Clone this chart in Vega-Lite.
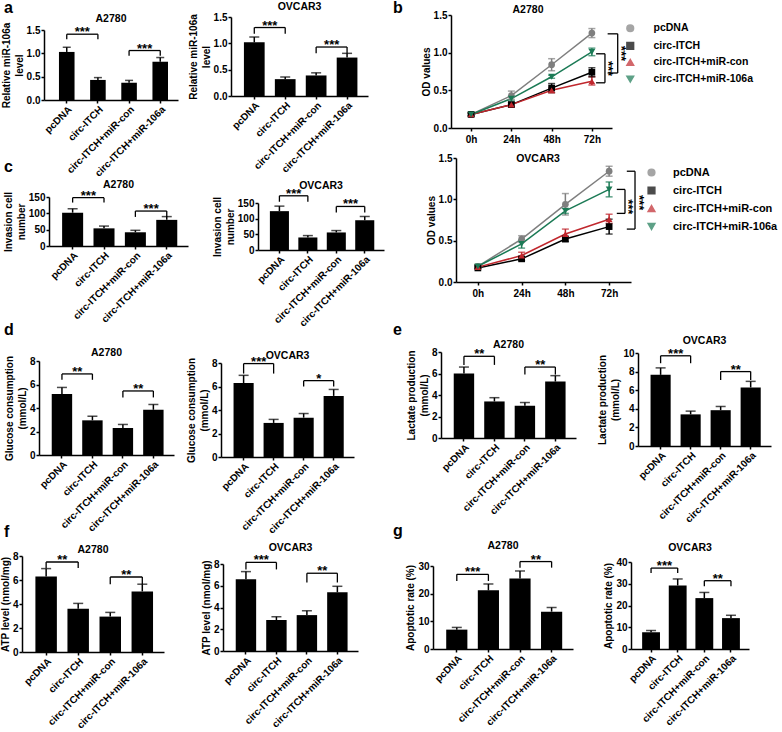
{
"$schema":"https://vega.github.io/schema/vega-lite/v6.json",
"padding":0,
"background":"white",
"config":{
 "font":"Liberation Sans",
 "view":{"stroke":null},
 "axis":{"labelFont":"Liberation Sans","labelFontWeight":"bold","labelFontSize":10,"labelColor":"#000","titleFont":"Liberation Sans","titleFontWeight":"bold","titleFontSize":10,"titleColor":"#000","titleLineHeight":13,"domainColor":"#000","domainWidth":1.5,"tickColor":"#000","tickWidth":1.5,"tickSize":3,"grid":false,"labelPadding":1,"titlePadding":2,"tickCount":12,"minExtent":0},
 "axisY":{"labelOverlap":false,"tickCount":12,"minExtent":0},
 "title":{"font":"Liberation Sans","fontSize":10.5,"fontWeight":"bold","color":"#000","baseline":"alphabetic"},
 "legend":{"labelFont":"Liberation Sans","labelFontWeight":"bold","labelColor":"#000"}
},
"resolve":{"scale":{"color":"independent","shape":"independent"},"legend":{"color":"independent","shape":"independent"}},
"datasets":{
"bars":[
{"panel":"aA","group":"pcDNA","value":1.03,"hi":1.13},{"panel":"aA","group":"circ-ITCH","value":0.43,"hi":0.48},{"panel":"aA","group":"circ-ITCH+miR-con","value":0.37,"hi":0.42},{"panel":"aA","group":"circ-ITCH+miR-106a","value":0.82,"hi":0.91},
{"panel":"aO","group":"pcDNA","value":1.02,"hi":1.12},{"panel":"aO","group":"circ-ITCH","value":0.32,"hi":0.36},{"panel":"aO","group":"circ-ITCH+miR-con","value":0.39,"hi":0.44},{"panel":"aO","group":"circ-ITCH+miR-106a","value":0.73,"hi":0.81},
{"panel":"cA","group":"pcDNA","value":102,"hi":114},{"panel":"cA","group":"circ-ITCH","value":54,"hi":61},{"panel":"cA","group":"circ-ITCH+miR-con","value":42,"hi":48},{"panel":"cA","group":"circ-ITCH+miR-106a","value":80,"hi":90},
{"panel":"cO","group":"pcDNA","value":124,"hi":140},{"panel":"cO","group":"circ-ITCH","value":40,"hi":46},{"panel":"cO","group":"circ-ITCH+miR-con","value":56,"hi":62},{"panel":"cO","group":"circ-ITCH+miR-106a","value":95,"hi":107},
{"panel":"dA","group":"pcDNA","value":5.2,"hi":5.75},{"panel":"dA","group":"circ-ITCH","value":2.95,"hi":3.3},{"panel":"dA","group":"circ-ITCH+miR-con","value":2.3,"hi":2.6},{"panel":"dA","group":"circ-ITCH+miR-106a","value":3.85,"hi":4.3},
{"panel":"dO","group":"pcDNA","value":6.3,"hi":6.95},{"panel":"dO","group":"circ-ITCH","value":2.9,"hi":3.2},{"panel":"dO","group":"circ-ITCH+miR-con","value":3.35,"hi":3.7},{"panel":"dO","group":"circ-ITCH+miR-106a","value":5.2,"hi":5.75},
{"panel":"eA","group":"pcDNA","value":6.0,"hi":6.6},{"panel":"eA","group":"circ-ITCH","value":3.4,"hi":3.75},{"panel":"eA","group":"circ-ITCH+miR-con","value":3.0,"hi":3.3},{"panel":"eA","group":"circ-ITCH+miR-106a","value":5.25,"hi":5.8},
{"panel":"eO","group":"pcDNA","value":7.65,"hi":8.4},{"panel":"eO","group":"circ-ITCH","value":3.4,"hi":3.75},{"panel":"eO","group":"circ-ITCH+miR-con","value":3.85,"hi":4.25},{"panel":"eO","group":"circ-ITCH+miR-106a","value":6.3,"hi":6.95},
{"panel":"fA","group":"pcDNA","value":6.3,"hi":6.95},{"panel":"fA","group":"circ-ITCH","value":3.6,"hi":4.05},{"panel":"fA","group":"circ-ITCH+miR-con","value":2.95,"hi":3.3},{"panel":"fA","group":"circ-ITCH+miR-106a","value":5.05,"hi":5.65},
{"panel":"fO","group":"pcDNA","value":6.6,"hi":7.3},{"panel":"fO","group":"circ-ITCH","value":2.85,"hi":3.15},{"panel":"fO","group":"circ-ITCH+miR-con","value":3.3,"hi":3.7},{"panel":"fO","group":"circ-ITCH+miR-106a","value":5.4,"hi":5.95},
{"panel":"gA","group":"pcDNA","value":7.0,"hi":7.8},{"panel":"gA","group":"circ-ITCH","value":21.2,"hi":23.5},{"panel":"gA","group":"circ-ITCH+miR-con","value":25.5,"hi":28.2},{"panel":"gA","group":"circ-ITCH+miR-106a","value":13.5,"hi":15.0},
{"panel":"gO","group":"pcDNA","value":7.7,"hi":8.5},{"panel":"gO","group":"circ-ITCH","value":29.2,"hi":32.2},{"panel":"gO","group":"circ-ITCH+miR-con","value":23.4,"hi":26.0},{"panel":"gO","group":"circ-ITCH+miR-106a","value":14.2,"hi":15.5}
],
"sig":[
{"panel":"aA","group":"pcDNA","to":"circ-ITCH","y":1.41,"y2":1.30,"label":"***"},{"panel":"aA","group":"circ-ITCH+miR-con","to":"circ-ITCH+miR-106a","y":1.06,"y2":0.95,"label":"***"},
{"panel":"aO","group":"pcDNA","to":"circ-ITCH","y":1.30,"y2":1.18,"label":"***"},{"panel":"aO","group":"circ-ITCH+miR-con","to":"circ-ITCH+miR-106a","y":0.93,"y2":0.81,"label":"***"},
{"panel":"cA","group":"pcDNA","to":"circ-ITCH","y":148,"y2":133,"label":"***"},{"panel":"cA","group":"circ-ITCH+miR-con","to":"circ-ITCH+miR-106a","y":107,"y2":89,"label":"***"},
{"panel":"cO","group":"pcDNA","to":"circ-ITCH","y":173,"y2":154,"label":"***"},{"panel":"cO","group":"circ-ITCH+miR-con","to":"circ-ITCH+miR-106a","y":139,"y2":120,"label":"***"},
{"panel":"dA","group":"pcDNA","to":"circ-ITCH","y":6.9,"y2":6.4,"label":"**"},{"panel":"dA","group":"circ-ITCH+miR-con","to":"circ-ITCH+miR-106a","y":5.45,"y2":4.9,"label":"**"},
{"panel":"dO","group":"pcDNA","to":"circ-ITCH","y":7.95,"y2":7.1,"label":"***"},{"panel":"dO","group":"circ-ITCH+miR-con","to":"circ-ITCH+miR-106a","y":6.5,"y2":6.0,"label":"*"},
{"panel":"eA","group":"pcDNA","to":"circ-ITCH","y":7.6,"y2":6.8,"label":"**"},{"panel":"eA","group":"circ-ITCH+miR-con","to":"circ-ITCH+miR-106a","y":6.6,"y2":5.9,"label":"**"},
{"panel":"eO","group":"pcDNA","to":"circ-ITCH","y":9.7,"y2":8.9,"label":"***"},{"panel":"eO","group":"circ-ITCH+miR-con","to":"circ-ITCH+miR-106a","y":8.0,"y2":7.1,"label":"**"},
{"panel":"fA","group":"pcDNA","to":"circ-ITCH","y":7.5,"y2":7.0,"label":"**"},{"panel":"fA","group":"circ-ITCH+miR-con","to":"circ-ITCH+miR-106a","y":6.25,"y2":5.65,"label":"**"},
{"panel":"fO","group":"pcDNA","to":"circ-ITCH","y":8.15,"y2":7.5,"label":"***"},{"panel":"fO","group":"circ-ITCH+miR-con","to":"circ-ITCH+miR-106a","y":7.15,"y2":6.3,"label":"**"},
{"panel":"gA","group":"pcDNA","to":"circ-ITCH","y":27,"y2":24.6,"label":"***"},{"panel":"gA","group":"circ-ITCH+miR-con","to":"circ-ITCH+miR-106a","y":31.6,"y2":29.4,"label":"**"},
{"panel":"gO","group":"pcDNA","to":"circ-ITCH","y":37.2,"y2":35,"label":"***"},{"panel":"gO","group":"circ-ITCH+miR-con","to":"circ-ITCH+miR-106a","y":31.4,"y2":28.8,"label":"**"}
],
"od":[
{"panel":"bA","group":"pcDNA","time":0,"value":0.18,"lo":0.16,"hi":0.2},{"panel":"bA","group":"pcDNA","time":24,"value":0.43,"lo":0.38,"hi":0.49},{"panel":"bA","group":"pcDNA","time":48,"value":0.84,"lo":0.76,"hi":0.92},{"panel":"bA","group":"pcDNA","time":72,"value":1.26,"lo":1.2,"hi":1.32},
{"panel":"bA","group":"circ-ITCH","time":0,"value":0.18,"lo":0.16,"hi":0.2},{"panel":"bA","group":"circ-ITCH","time":24,"value":0.31,"lo":0.28,"hi":0.34},{"panel":"bA","group":"circ-ITCH","time":48,"value":0.53,"lo":0.47,"hi":0.59},{"panel":"bA","group":"circ-ITCH","time":72,"value":0.74,"lo":0.68,"hi":0.8},
{"panel":"bA","group":"circ-ITCH+miR-con","time":0,"value":0.18,"lo":0.16,"hi":0.2},{"panel":"bA","group":"circ-ITCH+miR-con","time":24,"value":0.31,"lo":0.29,"hi":0.33},{"panel":"bA","group":"circ-ITCH+miR-con","time":48,"value":0.5,"lo":0.47,"hi":0.53},{"panel":"bA","group":"circ-ITCH+miR-con","time":72,"value":0.62,"lo":0.57,"hi":0.68},
{"panel":"bA","group":"circ-ITCH+miR-106a","time":0,"value":0.18,"lo":0.16,"hi":0.2},{"panel":"bA","group":"circ-ITCH+miR-106a","time":24,"value":0.39,"lo":0.36,"hi":0.42},{"panel":"bA","group":"circ-ITCH+miR-106a","time":48,"value":0.68,"lo":0.66,"hi":0.7},{"panel":"bA","group":"circ-ITCH+miR-106a","time":72,"value":1.01,"lo":0.96,"hi":1.06},
{"panel":"bO","group":"pcDNA","time":0,"value":0.19,"lo":0.17,"hi":0.21},{"panel":"bO","group":"pcDNA","time":24,"value":0.52,"lo":0.48,"hi":0.56},{"panel":"bO","group":"pcDNA","time":48,"value":0.94,"lo":0.81,"hi":1.07},{"panel":"bO","group":"pcDNA","time":72,"value":1.34,"lo":1.28,"hi":1.4},
{"panel":"bO","group":"circ-ITCH","time":0,"value":0.17,"lo":0.16,"hi":0.19},{"panel":"bO","group":"circ-ITCH","time":24,"value":0.28,"lo":0.26,"hi":0.3},{"panel":"bO","group":"circ-ITCH","time":48,"value":0.52,"lo":0.49,"hi":0.55},{"panel":"bO","group":"circ-ITCH","time":72,"value":0.67,"lo":0.58,"hi":0.76},
{"panel":"bO","group":"circ-ITCH+miR-con","time":0,"value":0.18,"lo":0.17,"hi":0.2},{"panel":"bO","group":"circ-ITCH+miR-con","time":24,"value":0.32,"lo":0.29,"hi":0.36},{"panel":"bO","group":"circ-ITCH+miR-con","time":48,"value":0.58,"lo":0.53,"hi":0.64},{"panel":"bO","group":"circ-ITCH+miR-con","time":72,"value":0.76,"lo":0.71,"hi":0.82},
{"panel":"bO","group":"circ-ITCH+miR-106a","time":0,"value":0.19,"lo":0.17,"hi":0.21},{"panel":"bO","group":"circ-ITCH+miR-106a","time":24,"value":0.46,"lo":0.41,"hi":0.51},{"panel":"bO","group":"circ-ITCH+miR-106a","time":48,"value":0.86,"lo":0.83,"hi":0.89},{"panel":"bO","group":"circ-ITCH+miR-106a","time":72,"value":1.12,"lo":1.03,"hi":1.21}
],
"bsig":[
{"panel":"bA","bx":87.4,"bxl":81.4,"top":1.25,"bottom":0.73,"sx":89.6,"sy":0.99,"label":"***"},
{"panel":"bA","bx":79.8,"bxl":74.5,"top":0.985,"bottom":0.6,"sx":81.8,"sy":0.79,"label":"***"},
{"panel":"bO","bx":86.2,"bxl":81.7,"top":1.34,"bottom":0.64,"sx":88.2,"sy":0.96,"label":"***"},
{"panel":"bO","bx":80.7,"bxl":76.2,"top":1.12,"bottom":0.83,"sx":82.6,"sy":0.91,"label":"***"}
]
},
"columns":7,
"align":"each",
"bounds":"flush",
"spacing":0,
"concat":[
 {"width":1,"height":1,"data":{"values":[]},"mark":"point","title":{"text":"a","anchor":"start","dx":-17,"offset":-1,"fontSize":16}},
 {"width":166,"height":85,"title":{"text":"A2780","offset":-9.5,"dx":6},
  "encoding":{"x":{"field":"group","type":"nominal","scale":{"domain":["pcDNA","circ-ITCH","circ-ITCH+miR-con","circ-ITCH+miR-106a"],"paddingInner":0.5,"paddingOuter":0.4,"align":0.6,"range":[22,156]},"axis":{"title":null,"labelAngle":-45}}},
  "layer":[
   {"data":{"name":"bars"},"transform":[{"filter":"datum.panel=='aA'"}],"mark":{"type":"bar","color":"#000"},"encoding":{"y":{"field":"value","type":"quantitative","scale":{"domain":[0,1.5],"nice":false,"range":[85,15]},"axis":{"values":[0,0.5,1,1.5],"tickCount":12,"format":".1f","offset":-22,"title":["Relative miR-106a","level"]}}}},
   {"data":{"name":"bars"},"transform":[{"filter":"datum.panel=='aA'"}],"mark":{"type":"rule","color":"#000","strokeWidth":1.5},"encoding":{"y":{"field":"value","type":"quantitative"},"y2":{"field":"hi"}}},
   {"data":{"name":"bars"},"transform":[{"filter":"datum.panel=='aA'"}],"mark":{"type":"tick","orient":"horizontal","color":"#000","size":8,"thickness":1.5},"encoding":{"y":{"field":"hi","type":"quantitative"}}},
   {"data":{"name":"sig"},"transform":[{"filter":"datum.panel=='aA'"}],"mark":{"type":"rule","color":"#000","strokeWidth":1.3},"encoding":{"x2":{"field":"to"},"y":{"field":"y","type":"quantitative"}}},
   {"data":{"name":"sig"},"transform":[{"filter":"datum.panel=='aA'"}],"mark":{"type":"rule","color":"#000","strokeWidth":1.3},"encoding":{"y":{"field":"y","type":"quantitative"},"y2":{"field":"y2"}}},
   {"data":{"name":"sig"},"transform":[{"filter":"datum.panel=='aA'"}],"mark":{"type":"rule","color":"#000","strokeWidth":1.3},"encoding":{"x":{"field":"to","type":"nominal"},"y":{"field":"y","type":"quantitative"},"y2":{"field":"y2"}}},
   {"data":{"name":"sig"},"transform":[{"filter":"datum.panel=='aA'"}],"mark":{"type":"text","fontSize":13,"fontWeight":"bold","baseline":"middle","dy":-2},"encoding":{"x":{"field":"group","type":"nominal","bandPosition":1.5},"y":{"field":"y","type":"quantitative"},"text":{"field":"label"}}}
  ]},
 {"width":33,"height":1,"data":{"values":[]},"mark":"point"},
 {"width":163,"height":81,"title":{"text":"OVCAR3","offset":-0.5,"dx":-3},
  "encoding":{"x":{"field":"group","type":"nominal","scale":{"domain":["pcDNA","circ-ITCH","circ-ITCH+miR-con","circ-ITCH+miR-106a"],"paddingInner":0.33,"paddingOuter":0.38,"align":0.55,"range":[10,147]},"axis":{"title":null,"labelAngle":-45}}},
  "layer":[
   {"data":{"name":"bars"},"transform":[{"filter":"datum.panel=='aO'"}],"mark":{"type":"bar","color":"#000"},"encoding":{"y":{"field":"value","type":"quantitative","scale":{"domain":[0,1.5],"nice":false,"range":[81,2]},"axis":{"values":[0,0.5,1,1.5],"tickCount":12,"format":".1f","offset":-10,"title":["Relative miR-106a","level"]}}}},
   {"data":{"name":"bars"},"transform":[{"filter":"datum.panel=='aO'"}],"mark":{"type":"rule","color":"#000","strokeWidth":1.5},"encoding":{"y":{"field":"value","type":"quantitative"},"y2":{"field":"hi"}}},
   {"data":{"name":"bars"},"transform":[{"filter":"datum.panel=='aO'"}],"mark":{"type":"tick","orient":"horizontal","color":"#000","size":10,"thickness":1.5},"encoding":{"y":{"field":"hi","type":"quantitative"}}},
   {"data":{"name":"sig"},"transform":[{"filter":"datum.panel=='aO'"}],"mark":{"type":"rule","color":"#000","strokeWidth":1.3},"encoding":{"x2":{"field":"to"},"y":{"field":"y","type":"quantitative"}}},
   {"data":{"name":"sig"},"transform":[{"filter":"datum.panel=='aO'"}],"mark":{"type":"rule","color":"#000","strokeWidth":1.3},"encoding":{"y":{"field":"y","type":"quantitative"},"y2":{"field":"y2"}}},
   {"data":{"name":"sig"},"transform":[{"filter":"datum.panel=='aO'"}],"mark":{"type":"rule","color":"#000","strokeWidth":1.3},"encoding":{"x":{"field":"to","type":"nominal"},"y":{"field":"y","type":"quantitative"},"y2":{"field":"y2"}}},
   {"data":{"name":"sig"},"transform":[{"filter":"datum.panel=='aO'"}],"mark":{"type":"text","fontSize":13,"fontWeight":"bold","baseline":"middle","dy":-2},"encoding":{"x":{"field":"group","type":"nominal","bandPosition":1.25},"y":{"field":"y","type":"quantitative"},"text":{"field":"label"}}}
  ]},
 {"width":49,"height":1,"data":{"values":[]},"mark":"point","title":{"text":"b","anchor":"start","dx":9,"offset":-1,"fontSize":16}},
 {"width":198,"height":113,"title":{"text":"A2780","offset":-5.5,"dx":-4},
  "encoding":{"x":{"field":"time","type":"quantitative","scale":{"domain":[-12,84],"nice":false,"range":[18,179]},"axis":{"values":[0,24,48,72],"tickCount":12,"labelExpr":"datum.value + 'h'","title":null,"labelPadding":3}}},
  "layer":[
   {"data":{"name":"od"},"transform":[{"filter":"datum.panel=='bA'"}],"mark":{"type":"line","strokeWidth":1.5},"encoding":{"y":{"field":"value","type":"quantitative","scale":{"domain":[0,1.5],"nice":false},"axis":{"values":[0,0.5,1,1.5],"tickCount":12,"format":".1f","offset":-18,"title":"OD  values"}},"color":{"field":"group","type":"nominal","scale":{"domain":["pcDNA","circ-ITCH","circ-ITCH+miR-con","circ-ITCH+miR-106a"],"range":["#7f7f7f","#000000","#c0272d","#1b7a55"]},"legend":{"title":null,"offset":-14,"padding":8,"labelFontSize":10.5,"symbolSize":45,"rowPadding":3.6,"labelOffset":18,"symbolStrokeWidth":1.5}}}},
   {"data":{"name":"od"},"transform":[{"filter":"datum.panel=='bA'"}],"mark":{"type":"rule","strokeWidth":1.5},"encoding":{"y":{"field":"lo","type":"quantitative"},"y2":{"field":"hi"},"color":{"field":"group","type":"nominal"}}},
   {"data":{"name":"od"},"transform":[{"filter":"datum.panel=='bA'"}],"mark":{"type":"tick","orient":"horizontal","size":7,"thickness":1.5},"encoding":{"y":{"field":"hi","type":"quantitative"},"color":{"field":"group","type":"nominal"}}},
   {"data":{"name":"od"},"transform":[{"filter":"datum.panel=='bA'"}],"mark":{"type":"tick","orient":"horizontal","size":7,"thickness":1.5},"encoding":{"y":{"field":"lo","type":"quantitative"},"color":{"field":"group","type":"nominal"}}},
   {"data":{"name":"od"},"transform":[{"filter":"datum.panel=='bA'"}],"mark":{"type":"point","filled":true,"size":45,"opacity":1},"encoding":{"y":{"field":"value","type":"quantitative"},"color":{"field":"group","type":"nominal"},"shape":{"field":"group","type":"nominal","scale":{"domain":["pcDNA","circ-ITCH","circ-ITCH+miR-con","circ-ITCH+miR-106a"],"range":["circle","square","triangle-up","triangle-down"]},"legend":{"title":null,"offset":-14,"padding":8,"labelFontSize":10.5,"symbolSize":45,"rowPadding":3.6,"labelOffset":18}}}},
   {"data":{"name":"bsig"},"transform":[{"filter":"datum.panel=='bA'"}],"mark":{"type":"rule","color":"#000","strokeWidth":1.3},"encoding":{"x":{"field":"bx","type":"quantitative"},"y":{"field":"top","type":"quantitative"},"y2":{"field":"bottom"}}},
   {"data":{"name":"bsig"},"transform":[{"filter":"datum.panel=='bA'"}],"mark":{"type":"rule","color":"#000","strokeWidth":1.3},"encoding":{"x":{"field":"bxl","type":"quantitative"},"x2":{"field":"bx"},"y":{"field":"top","type":"quantitative"}}},
   {"data":{"name":"bsig"},"transform":[{"filter":"datum.panel=='bA'"}],"mark":{"type":"rule","color":"#000","strokeWidth":1.3},"encoding":{"x":{"field":"bxl","type":"quantitative"},"x2":{"field":"bx"},"y":{"field":"bottom","type":"quantitative"}}},
   {"data":{"name":"bsig"},"transform":[{"filter":"datum.panel=='bA'"}],"mark":{"type":"text","angle":90,"fontSize":13,"fontWeight":"bold","baseline":"middle"},"encoding":{"x":{"field":"sx","type":"quantitative"},"y":{"field":"sy","type":"quantitative"},"text":{"field":"label"}}}
  ]},
 {"width":1,"height":1,"data":{"values":[]},"mark":"point"},

 {"width":1,"height":30,"data":{"values":[]},"mark":"point"},
 {"width":1,"height":1,"data":{"values":[]},"mark":"point"},
 {"width":1,"height":1,"data":{"values":[]},"mark":"point"},
 {"width":1,"height":1,"data":{"values":[]},"mark":"point"},
 {"width":1,"height":1,"data":{"values":[]},"mark":"point"},
 {"width":1,"height":1,"data":{"values":[]},"mark":"point"},
 {"width":1,"height":1,"data":{"values":[]},"mark":"point"},

 {"width":1,"height":1,"data":{"values":[]},"mark":"point","title":{"text":"c","anchor":"start","dx":-17,"offset":-17,"fontSize":16}},
 {"width":166,"height":88,"title":{"text":"A2780","offset":-32.5,"dx":13.5},
  "encoding":{"x":{"field":"group","type":"nominal","scale":{"domain":["pcDNA","circ-ITCH","circ-ITCH+miR-con","circ-ITCH+miR-106a"],"paddingInner":0.33,"paddingOuter":0.38,"align":0.55,"range":[27,166]},"axis":{"title":null,"labelAngle":-45}}},
  "layer":[
   {"data":{"name":"bars"},"transform":[{"filter":"datum.panel=='cA'"}],"mark":{"type":"bar","color":"#000"},"encoding":{"y":{"field":"value","type":"quantitative","scale":{"domain":[0,150],"nice":false,"range":[88,39]},"axis":{"values":[0,50,100,150],"tickCount":12,"format":"d","offset":-27,"title":["Invasion cell","number"]}}}},
   {"data":{"name":"bars"},"transform":[{"filter":"datum.panel=='cA'"}],"mark":{"type":"rule","color":"#000","strokeWidth":1.5},"encoding":{"y":{"field":"value","type":"quantitative"},"y2":{"field":"hi"}}},
   {"data":{"name":"bars"},"transform":[{"filter":"datum.panel=='cA'"}],"mark":{"type":"tick","orient":"horizontal","color":"#000","size":10,"thickness":1.5},"encoding":{"y":{"field":"hi","type":"quantitative"}}},
   {"data":{"name":"sig"},"transform":[{"filter":"datum.panel=='cA'"}],"mark":{"type":"rule","color":"#000","strokeWidth":1.3},"encoding":{"x2":{"field":"to"},"y":{"field":"y","type":"quantitative"}}},
   {"data":{"name":"sig"},"transform":[{"filter":"datum.panel=='cA'"}],"mark":{"type":"rule","color":"#000","strokeWidth":1.3},"encoding":{"y":{"field":"y","type":"quantitative"},"y2":{"field":"y2"}}},
   {"data":{"name":"sig"},"transform":[{"filter":"datum.panel=='cA'"}],"mark":{"type":"rule","color":"#000","strokeWidth":1.3},"encoding":{"x":{"field":"to","type":"nominal"},"y":{"field":"y","type":"quantitative"},"y2":{"field":"y2"}}},
   {"data":{"name":"sig"},"transform":[{"filter":"datum.panel=='cA'"}],"mark":{"type":"text","fontSize":13,"fontWeight":"bold","baseline":"middle","dy":-2},"encoding":{"x":{"field":"group","type":"nominal","bandPosition":1.25},"y":{"field":"y","type":"quantitative"},"text":{"field":"label"}}}
  ]},
 {"width":33,"height":1,"data":{"values":[]},"mark":"point"},
 {"width":163,"height":92,"title":{"text":"OVCAR3","offset":-33.5,"dx":18.5},
  "encoding":{"x":{"field":"group","type":"nominal","scale":{"domain":["pcDNA","circ-ITCH","circ-ITCH+miR-con","circ-ITCH+miR-106a"],"paddingInner":0.33,"paddingOuter":0.38,"align":0.55,"range":[37,163]},"axis":{"title":null,"labelAngle":-45}}},
  "layer":[
   {"data":{"name":"bars"},"transform":[{"filter":"datum.panel=='cO'"}],"mark":{"type":"bar","color":"#000"},"encoding":{"y":{"field":"value","type":"quantitative","scale":{"domain":[0,150],"nice":false,"range":[92,45]},"axis":{"values":[0,50,100,150],"tickCount":12,"format":"d","offset":-37,"title":["Invasion cell","number"]}}}},
   {"data":{"name":"bars"},"transform":[{"filter":"datum.panel=='cO'"}],"mark":{"type":"rule","color":"#000","strokeWidth":1.5},"encoding":{"y":{"field":"value","type":"quantitative"},"y2":{"field":"hi"}}},
   {"data":{"name":"bars"},"transform":[{"filter":"datum.panel=='cO'"}],"mark":{"type":"tick","orient":"horizontal","color":"#000","size":10,"thickness":1.5},"encoding":{"y":{"field":"hi","type":"quantitative"}}},
   {"data":{"name":"sig"},"transform":[{"filter":"datum.panel=='cO'"}],"mark":{"type":"rule","color":"#000","strokeWidth":1.3},"encoding":{"x2":{"field":"to"},"y":{"field":"y","type":"quantitative"}}},
   {"data":{"name":"sig"},"transform":[{"filter":"datum.panel=='cO'"}],"mark":{"type":"rule","color":"#000","strokeWidth":1.3},"encoding":{"y":{"field":"y","type":"quantitative"},"y2":{"field":"y2"}}},
   {"data":{"name":"sig"},"transform":[{"filter":"datum.panel=='cO'"}],"mark":{"type":"rule","color":"#000","strokeWidth":1.3},"encoding":{"x":{"field":"to","type":"nominal"},"y":{"field":"y","type":"quantitative"},"y2":{"field":"y2"}}},
   {"data":{"name":"sig"},"transform":[{"filter":"datum.panel=='cO'"}],"mark":{"type":"text","fontSize":13,"fontWeight":"bold","baseline":"middle","dy":-2},"encoding":{"x":{"field":"group","type":"nominal","bandPosition":1.25},"y":{"field":"y","type":"quantitative"},"text":{"field":"label"}}}
  ]},
 {"width":49,"height":1,"data":{"values":[]},"mark":"point"},
 {"width":198,"height":124,"title":{"text":"OVCAR3","offset":-11.5,"dx":6},
  "encoding":{"x":{"field":"time","type":"quantitative","scale":{"domain":[-12,84],"nice":false,"range":[23,198]},"axis":{"values":[0,24,48,72],"tickCount":12,"labelExpr":"datum.value + 'h'","title":null,"labelPadding":3}}},
  "layer":[
   {"data":{"name":"od"},"transform":[{"filter":"datum.panel=='bO'"}],"mark":{"type":"line","strokeWidth":1.5},"encoding":{"y":{"field":"value","type":"quantitative","scale":{"domain":[0,1.5],"nice":false},"axis":{"values":[0,0.5,1,1.5],"tickCount":12,"format":".1f","offset":-23,"title":"OD  values"}},"color":{"field":"group","type":"nominal","scale":{"domain":["pcDNA","circ-ITCH","circ-ITCH+miR-con","circ-ITCH+miR-106a"],"range":["#7f7f7f","#000000","#c0272d","#1b7a55"]},"legend":{"title":null,"offset":6,"padding":9,"labelFontSize":11,"symbolSize":45,"rowPadding":5,"labelOffset":16,"symbolStrokeWidth":1.5}}}},
   {"data":{"name":"od"},"transform":[{"filter":"datum.panel=='bO'"}],"mark":{"type":"rule","strokeWidth":1.5},"encoding":{"y":{"field":"lo","type":"quantitative"},"y2":{"field":"hi"},"color":{"field":"group","type":"nominal"}}},
   {"data":{"name":"od"},"transform":[{"filter":"datum.panel=='bO'"}],"mark":{"type":"tick","orient":"horizontal","size":7,"thickness":1.5},"encoding":{"y":{"field":"hi","type":"quantitative"},"color":{"field":"group","type":"nominal"}}},
   {"data":{"name":"od"},"transform":[{"filter":"datum.panel=='bO'"}],"mark":{"type":"tick","orient":"horizontal","size":7,"thickness":1.5},"encoding":{"y":{"field":"lo","type":"quantitative"},"color":{"field":"group","type":"nominal"}}},
   {"data":{"name":"od"},"transform":[{"filter":"datum.panel=='bO'"}],"mark":{"type":"point","filled":true,"size":45,"opacity":1},"encoding":{"y":{"field":"value","type":"quantitative"},"color":{"field":"group","type":"nominal"},"shape":{"field":"group","type":"nominal","scale":{"domain":["pcDNA","circ-ITCH","circ-ITCH+miR-con","circ-ITCH+miR-106a"],"range":["circle","square","triangle-up","triangle-down"]},"legend":{"title":null,"offset":6,"padding":9,"labelFontSize":11,"symbolSize":45,"rowPadding":5,"labelOffset":16}}}},
   {"data":{"name":"bsig"},"transform":[{"filter":"datum.panel=='bO'"}],"mark":{"type":"rule","color":"#000","strokeWidth":1.3},"encoding":{"x":{"field":"bx","type":"quantitative"},"y":{"field":"top","type":"quantitative"},"y2":{"field":"bottom"}}},
   {"data":{"name":"bsig"},"transform":[{"filter":"datum.panel=='bO'"}],"mark":{"type":"rule","color":"#000","strokeWidth":1.3},"encoding":{"x":{"field":"bxl","type":"quantitative"},"x2":{"field":"bx"},"y":{"field":"top","type":"quantitative"}}},
   {"data":{"name":"bsig"},"transform":[{"filter":"datum.panel=='bO'"}],"mark":{"type":"rule","color":"#000","strokeWidth":1.3},"encoding":{"x":{"field":"bxl","type":"quantitative"},"x2":{"field":"bx"},"y":{"field":"bottom","type":"quantitative"}}},
   {"data":{"name":"bsig"},"transform":[{"filter":"datum.panel=='bO'"}],"mark":{"type":"text","angle":90,"fontSize":13,"fontWeight":"bold","baseline":"middle"},"encoding":{"x":{"field":"sx","type":"quantitative"},"y":{"field":"sy","type":"quantitative"},"text":{"field":"label"}}}
  ]},
 {"width":1,"height":1,"data":{"values":[]},"mark":"point"},

 {"width":1,"height":70,"data":{"values":[]},"mark":"point"},
 {"width":1,"height":1,"data":{"values":[]},"mark":"point"},
 {"width":1,"height":1,"data":{"values":[]},"mark":"point"},
 {"width":1,"height":1,"data":{"values":[]},"mark":"point"},
 {"width":1,"height":1,"data":{"values":[]},"mark":"point"},
 {"width":1,"height":1,"data":{"values":[]},"mark":"point"},
 {"width":1,"height":1,"data":{"values":[]},"mark":"point"},

 {"width":1,"height":1,"data":{"values":[]},"mark":"point","title":{"text":"d","anchor":"start","dx":-17,"offset":14,"fontSize":16}},
 {"width":166,"height":103,"title":{"text":"A2780","offset":-6.5,"dx":1.5},
  "encoding":{"x":{"field":"group","type":"nominal","scale":{"domain":["pcDNA","circ-ITCH","circ-ITCH+miR-con","circ-ITCH+miR-106a"],"paddingInner":0.33,"paddingOuter":0.38,"align":0.55,"range":[17,152]},"axis":{"title":null,"labelAngle":-45}}},
  "layer":[
   {"data":{"name":"bars"},"transform":[{"filter":"datum.panel=='dA'"}],"mark":{"type":"bar","color":"#000"},"encoding":{"y":{"field":"value","type":"quantitative","scale":{"domain":[0,8],"nice":false,"range":[103,9]},"axis":{"values":[0,2,4,6,8],"tickCount":12,"format":"d","offset":-17,"title":["Glucose consumption","(mmol/L)"]}}}},
   {"data":{"name":"bars"},"transform":[{"filter":"datum.panel=='dA'"}],"mark":{"type":"rule","color":"#000","strokeWidth":1.5},"encoding":{"y":{"field":"value","type":"quantitative"},"y2":{"field":"hi"}}},
   {"data":{"name":"bars"},"transform":[{"filter":"datum.panel=='dA'"}],"mark":{"type":"tick","orient":"horizontal","color":"#000","size":10,"thickness":1.5},"encoding":{"y":{"field":"hi","type":"quantitative"}}},
   {"data":{"name":"sig"},"transform":[{"filter":"datum.panel=='dA'"}],"mark":{"type":"rule","color":"#000","strokeWidth":1.3},"encoding":{"x2":{"field":"to"},"y":{"field":"y","type":"quantitative"}}},
   {"data":{"name":"sig"},"transform":[{"filter":"datum.panel=='dA'"}],"mark":{"type":"rule","color":"#000","strokeWidth":1.3},"encoding":{"y":{"field":"y","type":"quantitative"},"y2":{"field":"y2"}}},
   {"data":{"name":"sig"},"transform":[{"filter":"datum.panel=='dA'"}],"mark":{"type":"rule","color":"#000","strokeWidth":1.3},"encoding":{"x":{"field":"to","type":"nominal"},"y":{"field":"y","type":"quantitative"},"y2":{"field":"y2"}}},
   {"data":{"name":"sig"},"transform":[{"filter":"datum.panel=='dA'"}],"mark":{"type":"text","fontSize":13,"fontWeight":"bold","baseline":"middle","dy":-2},"encoding":{"x":{"field":"group","type":"nominal","bandPosition":1.25},"y":{"field":"y","type":"quantitative"},"text":{"field":"label"}}}
  ]},
 {"width":33,"height":1,"data":{"values":[]},"mark":"point"},
 {"width":163,"height":105,"title":{"text":"OVCAR3","offset":-9.5,"dx":-15},
  "encoding":{"x":{"field":"group","type":"nominal","scale":{"domain":["pcDNA","circ-ITCH","circ-ITCH+miR-con","circ-ITCH+miR-106a"],"paddingInner":0.33,"paddingOuter":0.38,"align":0.55,"range":[0,133]},"axis":{"title":null,"labelAngle":-45}}},
  "layer":[
   {"data":{"name":"bars"},"transform":[{"filter":"datum.panel=='dO'"}],"mark":{"type":"bar","color":"#000"},"encoding":{"y":{"field":"value","type":"quantitative","scale":{"domain":[0,8],"nice":false,"range":[105,11]},"axis":{"values":[0,2,4,6,8],"tickCount":12,"format":"d","title":["Glucose consumption","(mmol/L)"]}}}},
   {"data":{"name":"bars"},"transform":[{"filter":"datum.panel=='dO'"}],"mark":{"type":"rule","color":"#000","strokeWidth":1.5},"encoding":{"y":{"field":"value","type":"quantitative"},"y2":{"field":"hi"}}},
   {"data":{"name":"bars"},"transform":[{"filter":"datum.panel=='dO'"}],"mark":{"type":"tick","orient":"horizontal","color":"#000","size":10,"thickness":1.5},"encoding":{"y":{"field":"hi","type":"quantitative"}}},
   {"data":{"name":"sig"},"transform":[{"filter":"datum.panel=='dO'"}],"mark":{"type":"rule","color":"#000","strokeWidth":1.3},"encoding":{"x2":{"field":"to"},"y":{"field":"y","type":"quantitative"}}},
   {"data":{"name":"sig"},"transform":[{"filter":"datum.panel=='dO'"}],"mark":{"type":"rule","color":"#000","strokeWidth":1.3},"encoding":{"y":{"field":"y","type":"quantitative"},"y2":{"field":"y2"}}},
   {"data":{"name":"sig"},"transform":[{"filter":"datum.panel=='dO'"}],"mark":{"type":"rule","color":"#000","strokeWidth":1.3},"encoding":{"x":{"field":"to","type":"nominal"},"y":{"field":"y","type":"quantitative"},"y2":{"field":"y2"}}},
   {"data":{"name":"sig"},"transform":[{"filter":"datum.panel=='dO'"}],"mark":{"type":"text","fontSize":13,"fontWeight":"bold","baseline":"middle","dy":-2},"encoding":{"x":{"field":"group","type":"nominal","bandPosition":1.25},"y":{"field":"y","type":"quantitative"},"text":{"field":"label"}}}
  ]},
 {"width":49,"height":1,"data":{"values":[]},"mark":"point","title":{"text":"e","anchor":"start","dx":9,"offset":14,"fontSize":16}},
 {"width":198,"height":86,"title":{"text":"A2780","offset":-3.5,"dx":-23.5},
  "encoding":{"x":{"field":"group","type":"nominal","scale":{"domain":["pcDNA","circ-ITCH","circ-ITCH+miR-con","circ-ITCH+miR-106a"],"paddingInner":0.33,"paddingOuter":0.38,"align":0.55,"range":[8,143]},"axis":{"title":null,"labelAngle":-45}}},
  "layer":[
   {"data":{"name":"bars"},"transform":[{"filter":"datum.panel=='eA'"}],"mark":{"type":"bar","color":"#000"},"encoding":{"y":{"field":"value","type":"quantitative","scale":{"domain":[0,8],"nice":false},"axis":{"values":[0,2,4,6,8],"tickCount":12,"format":"d","offset":-8,"title":["Lactate production","(mmol/L)"]}}}},
   {"data":{"name":"bars"},"transform":[{"filter":"datum.panel=='eA'"}],"mark":{"type":"rule","color":"#000","strokeWidth":1.5},"encoding":{"y":{"field":"value","type":"quantitative"},"y2":{"field":"hi"}}},
   {"data":{"name":"bars"},"transform":[{"filter":"datum.panel=='eA'"}],"mark":{"type":"tick","orient":"horizontal","color":"#000","size":10,"thickness":1.5},"encoding":{"y":{"field":"hi","type":"quantitative"}}},
   {"data":{"name":"sig"},"transform":[{"filter":"datum.panel=='eA'"}],"mark":{"type":"rule","color":"#000","strokeWidth":1.3},"encoding":{"x2":{"field":"to"},"y":{"field":"y","type":"quantitative"}}},
   {"data":{"name":"sig"},"transform":[{"filter":"datum.panel=='eA'"}],"mark":{"type":"rule","color":"#000","strokeWidth":1.3},"encoding":{"y":{"field":"y","type":"quantitative"},"y2":{"field":"y2"}}},
   {"data":{"name":"sig"},"transform":[{"filter":"datum.panel=='eA'"}],"mark":{"type":"rule","color":"#000","strokeWidth":1.3},"encoding":{"x":{"field":"to","type":"nominal"},"y":{"field":"y","type":"quantitative"},"y2":{"field":"y2"}}},
   {"data":{"name":"sig"},"transform":[{"filter":"datum.panel=='eA'"}],"mark":{"type":"text","fontSize":13,"fontWeight":"bold","baseline":"middle","dy":-2},"encoding":{"x":{"field":"group","type":"nominal","bandPosition":1.25},"y":{"field":"y","type":"quantitative"},"text":{"field":"label"}}}
  ]},
 {"width":140,"height":94,"title":{"text":"OVCAR3","offset":1.5,"dx":3.5},
  "encoding":{"x":{"field":"group","type":"nominal","scale":{"domain":["pcDNA","circ-ITCH","circ-ITCH+miR-con","circ-ITCH+miR-106a"],"paddingInner":0.33,"paddingOuter":0.38,"align":0.55,"range":[7,140]},"axis":{"title":null,"labelAngle":-45}}},
  "layer":[
   {"data":{"name":"bars"},"transform":[{"filter":"datum.panel=='eO'"}],"mark":{"type":"bar","color":"#000"},"encoding":{"y":{"field":"value","type":"quantitative","scale":{"domain":[0,10],"nice":false,"range":[94,1]},"axis":{"values":[0,2,4,6,8,10],"tickCount":12,"format":"d","offset":-7,"title":["Lactate production","(mmol/L)"]}}}},
   {"data":{"name":"bars"},"transform":[{"filter":"datum.panel=='eO'"}],"mark":{"type":"rule","color":"#000","strokeWidth":1.5},"encoding":{"y":{"field":"value","type":"quantitative"},"y2":{"field":"hi"}}},
   {"data":{"name":"bars"},"transform":[{"filter":"datum.panel=='eO'"}],"mark":{"type":"tick","orient":"horizontal","color":"#000","size":10,"thickness":1.5},"encoding":{"y":{"field":"hi","type":"quantitative"}}},
   {"data":{"name":"sig"},"transform":[{"filter":"datum.panel=='eO'"}],"mark":{"type":"rule","color":"#000","strokeWidth":1.3},"encoding":{"x2":{"field":"to"},"y":{"field":"y","type":"quantitative"}}},
   {"data":{"name":"sig"},"transform":[{"filter":"datum.panel=='eO'"}],"mark":{"type":"rule","color":"#000","strokeWidth":1.3},"encoding":{"y":{"field":"y","type":"quantitative"},"y2":{"field":"y2"}}},
   {"data":{"name":"sig"},"transform":[{"filter":"datum.panel=='eO'"}],"mark":{"type":"rule","color":"#000","strokeWidth":1.3},"encoding":{"x":{"field":"to","type":"nominal"},"y":{"field":"y","type":"quantitative"},"y2":{"field":"y2"}}},
   {"data":{"name":"sig"},"transform":[{"filter":"datum.panel=='eO'"}],"mark":{"type":"text","fontSize":13,"fontWeight":"bold","baseline":"middle","dy":-2},"encoding":{"x":{"field":"group","type":"nominal","bandPosition":1.25},"y":{"field":"y","type":"quantitative"},"text":{"field":"label"}}}
  ]},

 {"width":1,"height":99,"data":{"values":[]},"mark":"point"},
 {"width":1,"height":1,"data":{"values":[]},"mark":"point"},
 {"width":1,"height":1,"data":{"values":[]},"mark":"point"},
 {"width":1,"height":1,"data":{"values":[]},"mark":"point"},
 {"width":1,"height":1,"data":{"values":[]},"mark":"point"},
 {"width":1,"height":1,"data":{"values":[]},"mark":"point"},
 {"width":1,"height":1,"data":{"values":[]},"mark":"point"},

 {"width":1,"height":1,"data":{"values":[]},"mark":"point","title":{"text":"f","anchor":"start","dx":-17,"offset":16,"fontSize":16}},
 {"width":166,"height":96,"title":{"text":"A2780","offset":-4.5,"dx":-12},
  "encoding":{"x":{"field":"group","type":"nominal","scale":{"domain":["pcDNA","circ-ITCH","circ-ITCH+miR-con","circ-ITCH+miR-106a"],"paddingInner":0.33,"paddingOuter":0.38,"align":0.55,"range":[0,142]},"axis":{"title":null,"labelAngle":-45}}},
  "layer":[
   {"data":{"name":"bars"},"transform":[{"filter":"datum.panel=='fA'"}],"mark":{"type":"bar","color":"#000"},"encoding":{"y":{"field":"value","type":"quantitative","scale":{"domain":[0,8],"nice":false},"axis":{"values":[0,2,4,6,8],"tickCount":12,"format":"d","title":"ATP level (nmol/mg)"}}}},
   {"data":{"name":"bars"},"transform":[{"filter":"datum.panel=='fA'"}],"mark":{"type":"rule","color":"#000","strokeWidth":1.5},"encoding":{"y":{"field":"value","type":"quantitative"},"y2":{"field":"hi"}}},
   {"data":{"name":"bars"},"transform":[{"filter":"datum.panel=='fA'"}],"mark":{"type":"tick","orient":"horizontal","color":"#000","size":10,"thickness":1.5},"encoding":{"y":{"field":"hi","type":"quantitative"}}},
   {"data":{"name":"sig"},"transform":[{"filter":"datum.panel=='fA'"}],"mark":{"type":"rule","color":"#000","strokeWidth":1.3},"encoding":{"x2":{"field":"to"},"y":{"field":"y","type":"quantitative"}}},
   {"data":{"name":"sig"},"transform":[{"filter":"datum.panel=='fA'"}],"mark":{"type":"rule","color":"#000","strokeWidth":1.3},"encoding":{"y":{"field":"y","type":"quantitative"},"y2":{"field":"y2"}}},
   {"data":{"name":"sig"},"transform":[{"filter":"datum.panel=='fA'"}],"mark":{"type":"rule","color":"#000","strokeWidth":1.3},"encoding":{"x":{"field":"to","type":"nominal"},"y":{"field":"y","type":"quantitative"},"y2":{"field":"y2"}}},
   {"data":{"name":"sig"},"transform":[{"filter":"datum.panel=='fA'"}],"mark":{"type":"text","fontSize":13,"fontWeight":"bold","baseline":"middle","dy":-2},"encoding":{"x":{"field":"group","type":"nominal","bandPosition":1.25},"y":{"field":"y","type":"quantitative"},"text":{"field":"label"}}}
  ]},
 {"width":33,"height":1,"data":{"values":[]},"mark":"point"},
 {"width":163,"height":95,"title":{"text":"OVCAR3","offset":0.5,"dx":-12},
  "encoding":{"x":{"field":"group","type":"nominal","scale":{"domain":["pcDNA","circ-ITCH","circ-ITCH+miR-con","circ-ITCH+miR-106a"],"paddingInner":0.33,"paddingOuter":0.38,"align":0.55,"range":[2,137]},"axis":{"title":null,"labelAngle":-45}}},
  "layer":[
   {"data":{"name":"bars"},"transform":[{"filter":"datum.panel=='fO'"}],"mark":{"type":"bar","color":"#000"},"encoding":{"y":{"field":"value","type":"quantitative","scale":{"domain":[0,8],"nice":false,"range":[95,8]},"axis":{"values":[0,2,4,6,8],"tickCount":12,"format":"d","offset":-2,"title":"ATP level (nmol/mg)"}}}},
   {"data":{"name":"bars"},"transform":[{"filter":"datum.panel=='fO'"}],"mark":{"type":"rule","color":"#000","strokeWidth":1.5},"encoding":{"y":{"field":"value","type":"quantitative"},"y2":{"field":"hi"}}},
   {"data":{"name":"bars"},"transform":[{"filter":"datum.panel=='fO'"}],"mark":{"type":"tick","orient":"horizontal","color":"#000","size":10,"thickness":1.5},"encoding":{"y":{"field":"hi","type":"quantitative"}}},
   {"data":{"name":"sig"},"transform":[{"filter":"datum.panel=='fO'"}],"mark":{"type":"rule","color":"#000","strokeWidth":1.3},"encoding":{"x2":{"field":"to"},"y":{"field":"y","type":"quantitative"}}},
   {"data":{"name":"sig"},"transform":[{"filter":"datum.panel=='fO'"}],"mark":{"type":"rule","color":"#000","strokeWidth":1.3},"encoding":{"y":{"field":"y","type":"quantitative"},"y2":{"field":"y2"}}},
   {"data":{"name":"sig"},"transform":[{"filter":"datum.panel=='fO'"}],"mark":{"type":"rule","color":"#000","strokeWidth":1.3},"encoding":{"x":{"field":"to","type":"nominal"},"y":{"field":"y","type":"quantitative"},"y2":{"field":"y2"}}},
   {"data":{"name":"sig"},"transform":[{"filter":"datum.panel=='fO'"}],"mark":{"type":"text","fontSize":13,"fontWeight":"bold","baseline":"middle","dy":-2},"encoding":{"x":{"field":"group","type":"nominal","bandPosition":1.25},"y":{"field":"y","type":"quantitative"},"text":{"field":"label"}}}
  ]},
 {"width":49,"height":1,"data":{"values":[]},"mark":"point","title":{"text":"g","anchor":"start","dx":9,"offset":17,"fontSize":16}},
 {"width":198,"height":93,"title":{"text":"A2780","offset":2.5,"dx":-29},
  "encoding":{"x":{"field":"group","type":"nominal","scale":{"domain":["pcDNA","circ-ITCH","circ-ITCH+miR-con","circ-ITCH+miR-106a"],"paddingInner":0.33,"paddingOuter":0.38,"align":0.55,"range":[0,140]},"axis":{"title":null,"labelAngle":-45}}},
  "layer":[
   {"data":{"name":"bars"},"transform":[{"filter":"datum.panel=='gA'"}],"mark":{"type":"bar","color":"#000"},"encoding":{"y":{"field":"value","type":"quantitative","scale":{"domain":[0,30],"nice":false,"range":[93,10]},"axis":{"values":[0,10,20,30],"tickCount":12,"format":"d","title":"Apoptotic rate (%)"}}}},
   {"data":{"name":"bars"},"transform":[{"filter":"datum.panel=='gA'"}],"mark":{"type":"rule","color":"#000","strokeWidth":1.5},"encoding":{"y":{"field":"value","type":"quantitative"},"y2":{"field":"hi"}}},
   {"data":{"name":"bars"},"transform":[{"filter":"datum.panel=='gA'"}],"mark":{"type":"tick","orient":"horizontal","color":"#000","size":10,"thickness":1.5},"encoding":{"y":{"field":"hi","type":"quantitative"}}},
   {"data":{"name":"sig"},"transform":[{"filter":"datum.panel=='gA'"}],"mark":{"type":"rule","color":"#000","strokeWidth":1.3},"encoding":{"x2":{"field":"to"},"y":{"field":"y","type":"quantitative"}}},
   {"data":{"name":"sig"},"transform":[{"filter":"datum.panel=='gA'"}],"mark":{"type":"rule","color":"#000","strokeWidth":1.3},"encoding":{"y":{"field":"y","type":"quantitative"},"y2":{"field":"y2"}}},
   {"data":{"name":"sig"},"transform":[{"filter":"datum.panel=='gA'"}],"mark":{"type":"rule","color":"#000","strokeWidth":1.3},"encoding":{"x":{"field":"to","type":"nominal"},"y":{"field":"y","type":"quantitative"},"y2":{"field":"y2"}}},
   {"data":{"name":"sig"},"transform":[{"filter":"datum.panel=='gA'"}],"mark":{"type":"text","fontSize":13,"fontWeight":"bold","baseline":"middle","dy":-2},"encoding":{"x":{"field":"group","type":"nominal","bandPosition":1.25},"y":{"field":"y","type":"quantitative"},"text":{"field":"label"}}}
  ]},
 {"width":140,"height":93,"title":{"text":"OVCAR3","offset":2.5,"dx":-11},
  "encoding":{"x":{"field":"group","type":"nominal","scale":{"domain":["pcDNA","circ-ITCH","circ-ITCH+miR-con","circ-ITCH+miR-106a"],"paddingInner":0.33,"paddingOuter":0.38,"align":0.55,"range":[0,118]},"axis":{"title":null,"labelAngle":-45}}},
  "layer":[
   {"data":{"name":"bars"},"transform":[{"filter":"datum.panel=='gO'"}],"mark":{"type":"bar","color":"#000"},"encoding":{"y":{"field":"value","type":"quantitative","scale":{"domain":[0,40],"nice":false,"range":[93,6]},"axis":{"values":[0,10,20,30,40],"tickCount":12,"format":"d","title":"Apoptotic rate (%)"}}}},
   {"data":{"name":"bars"},"transform":[{"filter":"datum.panel=='gO'"}],"mark":{"type":"rule","color":"#000","strokeWidth":1.5},"encoding":{"y":{"field":"value","type":"quantitative"},"y2":{"field":"hi"}}},
   {"data":{"name":"bars"},"transform":[{"filter":"datum.panel=='gO'"}],"mark":{"type":"tick","orient":"horizontal","color":"#000","size":10,"thickness":1.5},"encoding":{"y":{"field":"hi","type":"quantitative"}}},
   {"data":{"name":"sig"},"transform":[{"filter":"datum.panel=='gO'"}],"mark":{"type":"rule","color":"#000","strokeWidth":1.3},"encoding":{"x2":{"field":"to"},"y":{"field":"y","type":"quantitative"}}},
   {"data":{"name":"sig"},"transform":[{"filter":"datum.panel=='gO'"}],"mark":{"type":"rule","color":"#000","strokeWidth":1.3},"encoding":{"y":{"field":"y","type":"quantitative"},"y2":{"field":"y2"}}},
   {"data":{"name":"sig"},"transform":[{"filter":"datum.panel=='gO'"}],"mark":{"type":"rule","color":"#000","strokeWidth":1.3},"encoding":{"x":{"field":"to","type":"nominal"},"y":{"field":"y","type":"quantitative"},"y2":{"field":"y2"}}},
   {"data":{"name":"sig"},"transform":[{"filter":"datum.panel=='gO'"}],"mark":{"type":"text","fontSize":13,"fontWeight":"bold","baseline":"middle","dy":-2},"encoding":{"x":{"field":"group","type":"nominal","bandPosition":1.25},"y":{"field":"y","type":"quantitative"},"text":{"field":"label"}}}
  ]}
]
}
